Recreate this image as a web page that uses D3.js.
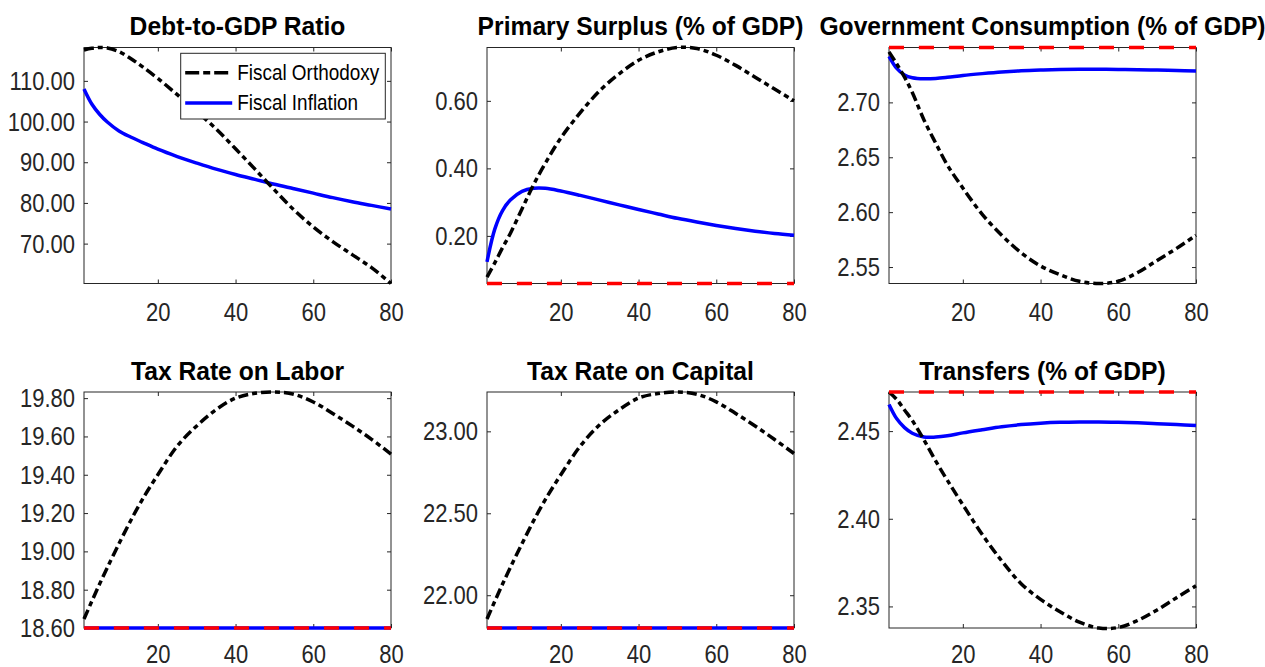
<!DOCTYPE html>
<html><head><meta charset="utf-8">
<script src="https://cdn.jsdelivr.net/npm/d3@7"></script>
<style>body{margin:0;background:#fff}svg{display:block}</style>
</head><body>
<svg id="chart" width="1265" height="667"></svg>
<script>
// ---- data ----
const periods = [1,3,5,7,10,13,16,20,25,30,35,40,45,50,55,60,65,70,75,80];
const xTicks = [20,40,60,80];
const titles = ["Debt-to-GDP Ratio","Primary Surplus (% of GDP)","Government Consumption (% of GDP)",
                "Tax Rate on Labor","Tax Rate on Capital","Transfers (% of GDP)"];
const seriesNames = ["Fiscal Orthodoxy","Fiscal Inflation"];

const debtOrthodoxy = [117.6,118.0,118.2,118.1,117.2,115.5,113.5,110.6,106.6,102.5,98.2,93.3,88.3,83.2,78.3,74.1,70.5,67.3,64.1,60.2];
const debtInflation = [108.0,104.3,101.8,99.9,97.7,96.2,94.9,93.2,91.4,89.8,88.3,87.0,85.8,84.6,83.5,82.4,81.3,80.3,79.4,78.5];
const debtBaseline = null;

const surplusOrthodoxy = [0.078,0.12,0.165,0.207,0.28,0.352,0.415,0.49,0.565,0.63,0.68,0.72,0.745,0.758,0.755,0.735,0.705,0.67,0.635,0.600];
const surplusInflation = [0.123,0.22,0.275,0.306,0.332,0.341,0.341,0.333,0.320,0.306,0.292,0.278,0.265,0.252,0.241,0.231,0.222,0.214,0.207,0.202];
const surplusBaseline = 0.059;

const govOrthodoxy = [2.746,2.735,2.723,2.709,2.684,2.663,2.643,2.622,2.598,2.579,2.563,2.551,2.543,2.537,2.535,2.537,2.545,2.556,2.567,2.579];
const govInflation = [2.742,2.731,2.725,2.7225,2.7215,2.7218,2.7228,2.7245,2.7262,2.7277,2.7288,2.7295,2.730,2.7302,2.7302,2.730,2.7298,2.7295,2.729,2.7286];
const govBaseline = 2.750;

const laborOrthodoxy = [18.647,18.739,18.829,18.915,19.04,19.16,19.27,19.40,19.55,19.655,19.74,19.80,19.825,19.832,19.82,19.78,19.72,19.655,19.585,19.508];
const laborInflation = [18.60,18.60,18.60,18.60,18.60,18.60,18.60,18.60,18.60,18.60,18.60,18.60,18.60,18.60,18.60,18.60,18.60,18.60,18.60,18.60];
const laborBaseline = 18.60;

const capitalOrthodoxy = [21.855,21.963,22.068,22.169,22.314,22.455,22.583,22.735,22.91,23.04,23.132,23.203,23.231,23.24,23.226,23.18,23.109,23.033,22.95,22.865];
const capitalInflation = [21.80,21.80,21.80,21.80,21.80,21.80,21.80,21.80,21.80,21.80,21.80,21.80,21.80,21.80,21.80,21.80,21.80,21.80,21.80,21.80];
const capitalBaseline = 21.80;

const transOrthodoxy = [2.4723,2.468,2.462,2.456,2.445,2.433,2.422,2.408,2.391,2.376,2.363,2.354,2.347,2.341,2.3377,2.338,2.342,2.348,2.355,2.3618];
const transInflation = [2.4652,2.457,2.452,2.4488,2.4466,2.4466,2.4473,2.449,2.4508,2.4525,2.4537,2.4545,2.455,2.4552,2.4552,2.455,2.4547,2.4542,2.4537,2.4532];
const transBaseline = 2.4723;

const yTicks1 = [70,80,90,100,110];
const yTicks2 = [0.2,0.4,0.6];
const yTicks3 = [2.55,2.60,2.65,2.70];
const yTicks4 = [18.6,18.8,19.0,19.2,19.4,19.6,19.8];
const yTicks5 = [22.0,22.5,23.0];
const yTicks6 = [2.35,2.40,2.45];

const panels = [
  {title:titles[0], orth:debtOrthodoxy, infl:debtInflation, base:debtBaseline, ticks:yTicks1},
  {title:titles[1], orth:surplusOrthodoxy, infl:surplusInflation, base:surplusBaseline, ticks:yTicks2},
  {title:titles[2], orth:govOrthodoxy, infl:govInflation, base:govBaseline, ticks:yTicks3},
  {title:titles[3], orth:laborOrthodoxy, infl:laborInflation, base:laborBaseline, ticks:yTicks4},
  {title:titles[4], orth:capitalOrthodoxy, infl:capitalInflation, base:capitalBaseline, ticks:yTicks5},
  {title:titles[5], orth:transOrthodoxy, infl:transInflation, base:transBaseline, ticks:yTicks6}
];

// ---- layout ----
const lefts = [84, 487, 889];
const tops = [47.5, 392];
const W = 307, H = 236;
const axCol = "#262626";
const sx = 0.88;
const FONT = "Liberation Sans, Arial, sans-serif";
const orthDash = "10,4,5,4";

const svg = d3.select("#chart");
svg.append("rect").attr("width",1265).attr("height",667).attr("fill","#fff");

panels.forEach((p,i)=>{
  const col = i%3, row = Math.floor(i/3);
  const g = svg.append("g").attr("transform",`translate(${lefts[col]},${tops[row]})`);
  const x = d3.scaleLinear().domain([1,80]).range([0,W]);
  const all = p.orth.concat(p.infl); if (p.base!==null) all.push(p.base);
  const y = d3.scaleLinear().domain(d3.extent(all)).range([H,0]);

  const styleAxis = sel => { sel.selectAll("path.domain").remove(); sel.selectAll(".tick line").attr("stroke",axCol).attr("stroke-width",1); };
  g.append("g").call(d3.axisLeft(y).tickValues(p.ticks).tickSizeInner(-4).tickSizeOuter(0).tickFormat(d3.format(".2f"))).call(styleAxis)
   .call(s=>s.selectAll(".tick text").attr("x",null).attr("dy",null)
     .attr("transform",`translate(-9,0) scale(${sx},1)`).attr("dominant-baseline","central")
     .attr("font-family",FONT).attr("font-size",25).attr("fill",axCol).attr("text-anchor","end"));
  g.append("g").attr("transform",`translate(${W},0)`).call(d3.axisRight(y).tickValues(p.ticks).tickSizeInner(-4).tickSizeOuter(0).tickFormat("")).call(styleAxis);
  g.append("g").attr("transform",`translate(0,${H})`).call(d3.axisBottom(x).tickValues(xTicks).tickSizeInner(-4).tickSizeOuter(0)).call(styleAxis)
   .call(s=>s.selectAll(".tick text").attr("y",null).attr("dy",null)
     .attr("transform",`translate(0,${row===0?37:35}) scale(${sx},1)`)
     .attr("font-family",FONT).attr("font-size",25).attr("fill",axCol).attr("text-anchor","middle"));
  g.append("g").call(d3.axisTop(x).tickValues(xTicks).tickSizeInner(-4).tickSizeOuter(0).tickFormat("")).call(styleAxis);
  g.append("rect").attr("width",W).attr("height",H).attr("fill","none").attr("stroke",axCol).attr("stroke-width",1);

  const line = d3.line().x((d,k)=>x(periods[k])).y(d=>y(d)).curve(d3.curveCatmullRom.alpha(0.5));
  g.append("path").datum(p.infl).attr("d",line).attr("fill","none").attr("stroke","#0000ff").attr("stroke-width",3.5);
  g.append("path").datum(p.orth).attr("d",line).attr("fill","none").attr("stroke","#000").attr("stroke-width",3.5).attr("stroke-dasharray",orthDash);
  if (p.base!==null) {
    g.append("path").datum(periods.map(()=>p.base)).attr("d",line).attr("fill","none").attr("stroke","#ff0000").attr("stroke-width",3.5).attr("stroke-dasharray","15,15");
  }

  g.append("text").attr("transform",`translate(${W/2},${-12.5}) scale(0.93,1)`).attr("text-anchor","middle")
   .attr("font-family",FONT).attr("font-weight","bold").attr("font-size",26.5).attr("fill","#000").text(p.title);

  if (i===0) {
    const lg = g.append("g").attr("transform",`translate(${180.7-84},${53.3-47.5})`);
    lg.append("rect").attr("width",204.6).attr("height",65.7).attr("fill","#fff").attr("stroke",axCol).attr("stroke-width",1);
    const items = [{name:seriesNames[0],color:"#000",dash:"14,4,7,4",yy:19.4},{name:seriesNames[1],color:"#0000ff",dash:null,yy:49.7}];
    items.forEach(it=>{
      lg.append("line").attr("x1",4.5).attr("x2",51.5).attr("y1",it.yy).attr("y2",it.yy).attr("stroke",it.color).attr("stroke-width",3.5).attr("stroke-dasharray",it.dash);
      lg.append("text").attr("transform",`translate(56.5,${it.yy}) scale(${sx},1)`).attr("dominant-baseline","central")
        .attr("font-family",FONT).attr("font-size",21.5).attr("fill","#000").text(it.name);
    });
  }
});
</script>
</body></html>
